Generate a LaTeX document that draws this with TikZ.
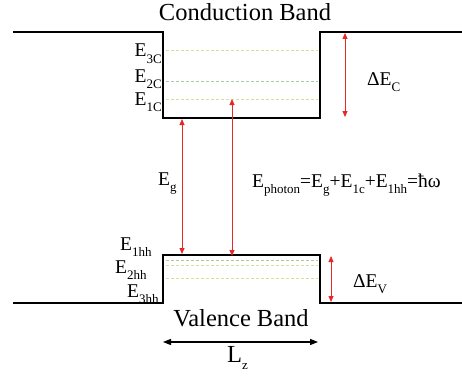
\documentclass[tikz,border=0pt]{standalone}
\usepackage{fontspec}
\setmainfont{Liberation Serif}
\usetikzlibrary{arrows.meta}
\definecolor{arrred}{RGB}{230,40,40}
\definecolor{lvlA}{RGB}{215,225,150}
\definecolor{lvlB}{RGB}{170,200,170}
\newcommand\lsub[1]{\raisebox{-0.32em}{\fontsize{13}{13}\selectfont #1}}
\tikzset{
  band/.style={line width=1.4pt, black},
  lvl/.style={line width=0.6pt, dash pattern=on 3pt off 2pt},
  redarr/.style={arrred, line width=0.8pt, {Triangle[length=6pt,width=5pt]}-{Triangle[length=6pt,width=5pt]}},
  blkarr/.style={black, line width=1.2pt, {Triangle[length=8pt,width=6pt]}-{Triangle[length=8pt,width=6pt]}},
  title/.style={font=\fontsize{24.5}{26}\selectfont, inner sep=0pt},
  lab/.style={font=\fontsize{19.5}{21}\selectfont, inner sep=0pt}
}
\begin{document}
\begin{tikzpicture}[x=1pt,y=-1pt]
\useasboundingbox (0,0) rectangle (462,377);
% conduction band well
\coordinate (cl) at (13,32);
\coordinate (c1) at (163,32);
\coordinate (c2) at (163,118);
\coordinate (c3) at (320,118);
\coordinate (c4) at (320,32);
\coordinate (cr) at (462,32);
\draw[band] (cl) -- (c1) -- (c2) -- (c3) -- (c4) -- (cr);
% valence band well
\coordinate (vl) at (13,303);
\coordinate (v1) at (163,303);
\coordinate (v2) at (163,255);
\coordinate (v3) at (320,255);
\coordinate (v4) at (320,303);
\coordinate (vr) at (462,303);
\draw[band] (vl) -- (v1) -- (v2) -- (v3) -- (v4) -- (vr);
% levels
\coordinate (l3a) at (166,50);  \coordinate (l3b) at (318,50);
\coordinate (l2a) at (166,81);  \coordinate (l2b) at (318,81);
\coordinate (l1a) at (166,99);  \coordinate (l1b) at (318,99);
\draw[lvl, lvlA] (l3a) -- (l3b);
\draw[lvl, lvlB] (l2a) -- (l2b);
\draw[lvl, lvlA] (l1a) -- (l1b);
\coordinate (h1a) at (166,260);  \coordinate (h1b) at (318,260);
\coordinate (h2a) at (166,265);  \coordinate (h2b) at (318,265);
\coordinate (h3a) at (166,278);  \coordinate (h3b) at (318,278);
\draw[lvl, lvlB] (h1a) -- (h1b);
\draw[lvl, lvlA] (h2a) -- (h2b);
\draw[lvl, lvlA] (h3a) -- (h3b);
% arrows
\coordinate (dcT) at (345,33); \coordinate (dcB) at (345,117);
\draw[redarr] (dcT) -- (dcB);
\coordinate (egT) at (182,119); \coordinate (egB) at (182,254);
\draw[redarr] (egT) -- (egB);
\coordinate (phT) at (232,99); \coordinate (phB) at (232,256);
\draw[redarr] (phT) -- (phB);
\coordinate (dvT) at (331,256); \coordinate (dvB) at (331,302);
\draw[redarr] (dvT) -- (dvB);
\coordinate (lzL) at (163,342); \coordinate (lzR) at (318,342);
\draw[blkarr] (lzL) -- (lzR);
% labels
\node[title] (cb) at (245,12) {Conduction Band};
\node[title] (vb) at (241,318) {Valence Band};
\node[lab, anchor=base east] (e3c) at (162,57) {E\lsub{3C}};
\node[lab, anchor=base east] (e2c) at (162,82) {E\lsub{2C}};
\node[lab, anchor=base east] (e1c) at (162,105) {E\lsub{1C}};
\node[lab, anchor=base west] (dec) at (367,85) {ΔE\lsub{C}};
\node[lab, anchor=base west] (eg) at (158,185) {E\lsub{g}};
\node[lab, anchor=base west] (eph) at (252,187) {E\lsub{photon}=E\lsub{g}+E\lsub{1c}+E\lsub{1hh}=ħω};
\node[lab, anchor=base west] (e1h) at (120,250) {E\lsub{1hh}};
\node[lab, anchor=base west] (e2h) at (115,273) {E\lsub{2hh}};
\node[lab, anchor=base west] (e3h) at (127,297) {E\lsub{3hh}};
\node[lab, anchor=base west] (dev) at (353,287) {ΔE\lsub{V}};
\node[title, anchor=base west] (lz) at (227,362) {L\lsub{z}};
\end{tikzpicture}
\end{document}
